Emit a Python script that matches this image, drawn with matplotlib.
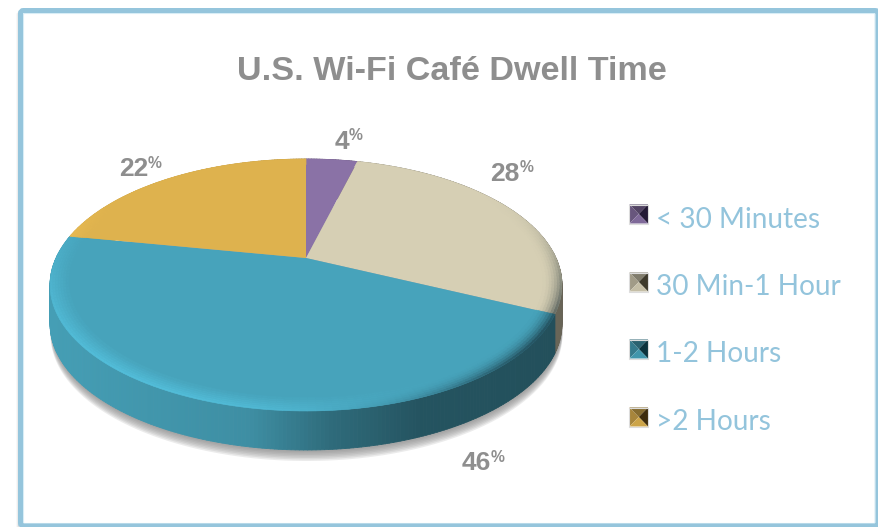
import numpy as np
import matplotlib
matplotlib.use("Agg")
import matplotlib.pyplot as plt
from matplotlib.collections import PolyCollection
from matplotlib.colors import to_rgb
from matplotlib.patches import FancyBboxPatch, Polygon
from matplotlib.transforms import Transform

# ----------------------------------------
# Chart data
# ----------------------------------------
title = "U.S. Wi-Fi Café Dwell Time"
categories = ["< 30 Minutes", "30 Min-1 Hour", "1-2 Hours", ">2 Hours"]
values = [4, 28, 46, 22]
colors = ["#8a72a6", "#d6cfb4", "#47a3bb", "#deb24e"]
swatch_dark = ["#241a36", "#3e3a2c", "#0c323c", "#3e2c0c"]

TEXT_GRAY = "#8e8e8e"
LEGEND_BLUE = "#93c4dc"
FRAME_BLUE = "#95c5dc"

# pie placement in image pixels
CX, CY, SX, DEPTH = 306, 285, 250, 39
PERSP = 0.2143

fig = plt.figure(figsize=(8.79, 5.27), dpi=100, facecolor="white")
ax = fig.add_axes([0, 0, 1, 1])


# ----------------------------------------
# Tilted view of the unit circle, with the near side larger
# ----------------------------------------
class TiltTransform(Transform):
    input_dims = 2
    output_dims = 2
    is_separable = False
    has_inverse = False

    def transform_non_affine(self, values):
        pts = np.asarray(values, dtype=float)
        u, v = pts[:, 0], pts[:, 1]
        w = 1 + PERSP * v
        return np.column_stack([CX + SX * u / w, CY - (126 * v + 27) / w])


tilt = TiltTransform()


def mix(color, other, amount):
    a, b = np.array(to_rgb(color)), np.array(to_rgb(other))
    return tuple(a + (b - a) * amount)


def rim(angle, radius=1.0):
    # angle in degrees, clockwise from the top of the pie
    rad = np.radians(angle)
    return tilt.transform(np.column_stack([radius * np.sin(rad), radius * np.cos(rad)]))


# Side colours follow the screen position, light on the left and dark on the right
def side_color(base, x):
    light = np.interp(x, [50, 250, 330, 420, 563], [1.0, 0.9, 0.68, 0.53, 0.5])
    return tuple(np.clip(np.array(to_rgb(base)) * light * 0.97, 0, 1))


edges = np.cumsum([0] + values) * 3.6

# ----------------------------------------
# Soft shadow under the pie
# ----------------------------------------
outline = rim(np.linspace(0, 360, 240))
for step in np.linspace(11, 2, 7):
    ax.fill(outline[:, 0] + 0.5, outline[:, 1] + DEPTH + step, color="#7f7f7f", alpha=0.15, lw=0)

# ----------------------------------------
# Side wall of the pie, one thin strip at a time
# ----------------------------------------
strips, strip_colors = [], []
for i, base in enumerate(colors):
    angles = np.arange(edges[i], edges[i + 1] + 0.75, 0.75)
    angles[-1] = edges[i + 1]
    pts = rim(angles)
    for a, b in zip(pts[:-1], pts[1:]):
        strips.append([a, b, b + [0, DEPTH], a + [0, DEPTH]])
        strip_colors.append(side_color(base, (a[0] + b[0]) / 2))
ax.add_collection(PolyCollection(strips, facecolors=strip_colors, edgecolors=strip_colors, linewidths=0.6))

# ----------------------------------------
# Top face of the pie
# ----------------------------------------
wedges, _ = ax.pie(values, colors=colors, startangle=90, counterclock=False, radius=1.0,
                   wedgeprops={"linewidth": 0})
for wedge in wedges:
    wedge.set_transform(tilt + ax.transData)

# Bevel around the rim of the top face
bevel, bevel_colors = [], []
rings = np.linspace(1.0, 0.93, 8)
for i, base in enumerate(colors):
    angles = np.arange(edges[i], edges[i + 1] + 1.5, 1.5)
    angles[-1] = edges[i + 1]
    for a0, a1 in zip(angles[:-1], angles[1:]):
        mid = np.radians((a0 + a1) / 2)
        lit = max(0.0, np.cos(mid - np.radians(215))) ** 1.5
        shade = max(0.0, np.cos(mid - np.radians(125))) ** 5
        for j in range(len(rings) - 1):
            fade = 1 - j / (len(rings) - 1)
            outer = rim(np.array([a0, a1]), rings[j])
            inner = rim(np.array([a1, a0]), rings[j + 1])
            face = np.clip(np.array(to_rgb(base)) * (1 + 0.16 * lit * fade), 0, 1)
            face = mix(face, "#10222a", 0.6 * shade * fade ** 2)
            bevel.append(np.vstack([outer, inner]))
            bevel_colors.append(face)
ax.add_collection(PolyCollection(bevel, facecolors=bevel_colors, edgecolors=bevel_colors, linewidths=0.4))

# ----------------------------------------
# Percent labels
# ----------------------------------------
label_pos = [(349, 142), (520, 174), (491, 463), (148, 169)]
for value, (x, y) in zip(values, label_pos):
    ax.text(x, y, str(value), ha="right", va="center", fontsize=19, fontweight="bold",
            family="Liberation Sans", color=TEXT_GRAY)
    ax.text(x, y - 6, "%", ha="left", va="center", fontsize=11.3, fontweight="bold",
            family="Liberation Sans", color=TEXT_GRAY)

# ----------------------------------------
# Legend with the raised square markers
# ----------------------------------------
legend_y = [214, 282, 349, 417]
text_y = [220, 287, 354, 422]
for name, base, dark, y, ty in zip(categories, colors, swatch_dark, legend_y, text_y):
    x0, x1, y0, y1 = 629.5, 648, y - 9.5, y + 9.5
    mx, my = (x0 + x1) / 2, (y0 + y1) / 2
    ax.add_patch(Polygon([(x0, y0), (x1, y0), (mx, my)], color=mix(base, "black", 0.4), lw=0))
    ax.add_patch(Polygon([(x0, y0), (x0, y1), (mx, my)], color=mix(base, "black", 0.25), lw=0))
    ax.add_patch(Polygon([(x1, y0), (x1, y1), (mx, my)], color=dark, lw=0))
    ax.add_patch(Polygon([(x0, y1), (x1, y1), (mx, my)], color=mix(base, "black", 0.08), lw=0))
    ax.add_patch(Polygon([(x0, y0), (x1, y0), (x1, y1), (x0, y1)], fill=False, ec="#dcdcdc", lw=0.8))
    ax.text(656, ty, name, ha="left", va="center", fontsize=20.2, family="Lato", color=LEGEND_BLUE)

# ----------------------------------------
# Title and outer frame
# ----------------------------------------
ax.text(452, 71, title, ha="center", va="center", fontsize=24.6, fontweight="bold",
        family="Liberation Sans", color=TEXT_GRAY)

for offset, alpha in [(3.5, 0.06), (2.5, 0.10), (1.5, 0.16)]:
    ax.add_patch(FancyBboxPatch((20.5 - offset, 12), 860, 520, boxstyle="round,pad=0,rounding_size=3",
                                fill=False, ec="#555555", lw=1.0, alpha=alpha))
ax.add_patch(FancyBboxPatch((23.5, 13.5), 851.5, 510, boxstyle="round,pad=0,rounding_size=1",
                            fill=False, ec="#d8edf6", lw=0.8))
ax.add_patch(FancyBboxPatch((20.5, 10.5), 857.5, 515.5, boxstyle="round,pad=0,rounding_size=3",
                            fill=False, ec=FRAME_BLUE, lw=3.6))

ax.set_aspect("auto")
ax.set_xlim(0, 879)
ax.set_ylim(527, 0)
ax.axis("off")

fig.savefig("out.png", dpi=100, facecolor="white")
